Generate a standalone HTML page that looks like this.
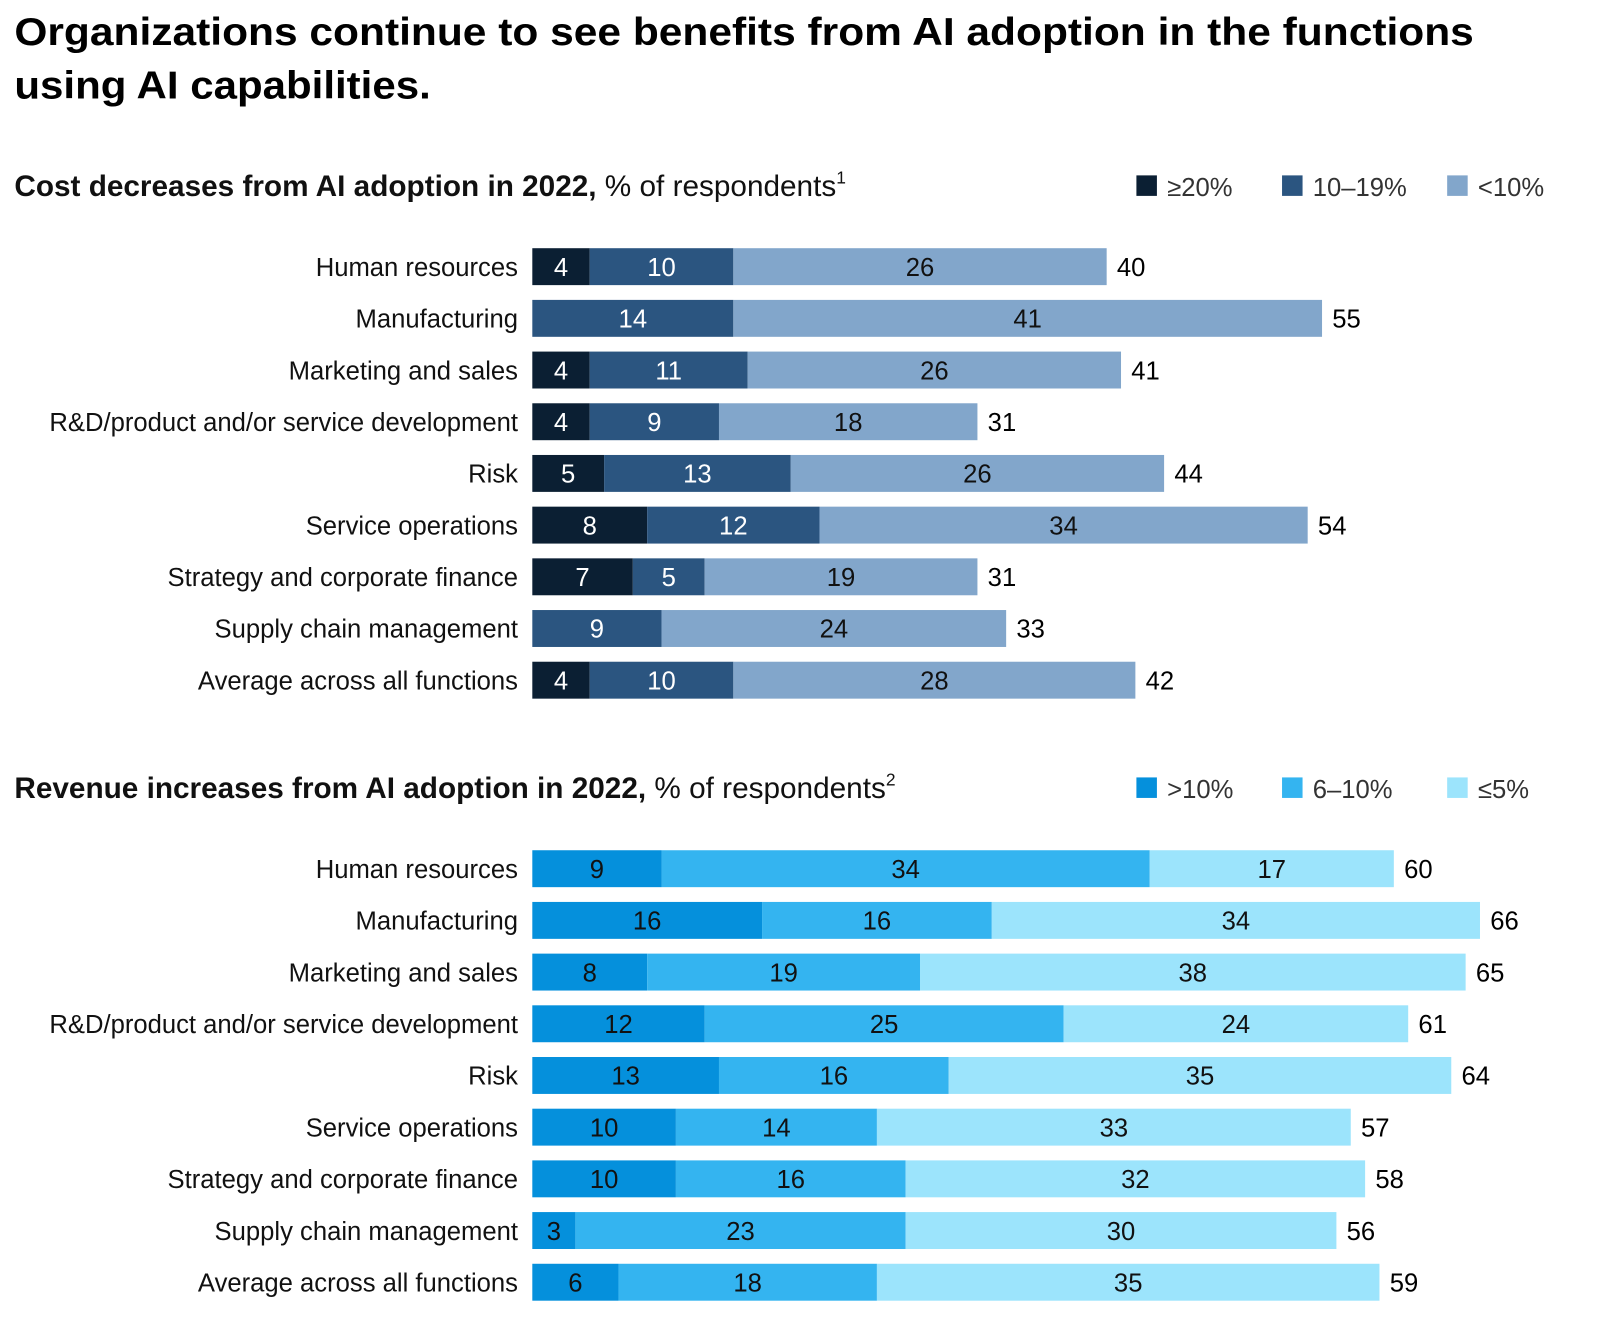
<!DOCTYPE html>
<html><head><meta charset="utf-8"><style>
html,body{margin:0;padding:0;background:#fff;}
svg{display:block;font-family:"Liberation Sans",sans-serif;}
</style></head><body>
<svg id="chart" width="1600" height="1321" viewBox="0 0 1560 1288" xmlns="http://www.w3.org/2000/svg">
<text x="14" y="44" font-size="38" font-weight="bold" fill="#000" textLength="1423" lengthAdjust="spacingAndGlyphs">Organizations continue to see benefits from AI adoption in the functions</text>
<text x="14" y="96" font-size="38" font-weight="bold" fill="#000" textLength="406" lengthAdjust="spacingAndGlyphs">using AI capabilities.</text>
<g id="g1"></g>
<g id="g2"></g>
</svg>
<script>
const categories = ["Human resources","Manufacturing","Marketing and sales","R&D/product and/or service development","Risk","Service operations","Strategy and corporate finance","Supply chain management","Average across all functions"];
const costHigh = [4,0,4,4,5,8,7,0,4];
const costMid = [10,14,11,9,13,12,5,9,10];
const costLow = [26,41,26,18,26,34,19,24,28];
const costTotal = [40,55,41,31,44,54,31,33,42];
const costLegend = ["≥20%","10–19%","<10%"];
const revHigh = [9,16,8,12,13,10,10,3,6];
const revMid = [34,16,19,25,16,14,16,23,18];
const revLow = [17,34,38,24,35,33,32,30,35];
const revTotal = [60,66,65,61,64,57,58,56,59];
const revLegend = [">10%","6–10%","≤5%"];

const NS = "http://www.w3.org/2000/svg";
const X0 = 519, UNIT = 14, PITCH = 50.4, BAR_H = 36;
const xScale = v => X0 + v * UNIT;
function mk(tag, attrs, parent, txt){
  const e = document.createElementNS(NS, tag);
  for (const k in attrs) e.setAttribute(k, attrs[k]);
  if (txt !== undefined) e.textContent = txt;
  parent.appendChild(e);
  return e;
}
function drawChart(g, cfg){
  const st = mk("text", {x:14, y:cfg.subY, "font-size":29, fill:"#111"}, g);
  
  
  mk("tspan", {"font-weight":"bold"}, st, cfg.bold);
  mk("tspan", {}, st, " % of respondents");
  mk("tspan", {"font-size":17, dy:-12}, st, cfg.sup);
  const lx = [1108, 1250, 1411];
  cfg.legend.forEach((lab, i) => {
    const r = mk("rect", {x:lx[i], y:cfg.subY-20, width:20, height:20, fill:cfg.colors[i]}, g);
    
    
    const t = mk("text", {x:lx[i]+30, y:cfg.subY, "font-size":25, fill:"#333"}, g, lab);
    
    
  });
  categories.forEach((cat, i) => {
    const cy = cfg.y0 + i * PITCH;
    const lt = mk("text", {x:505, y:cy+9, "font-size":25, fill:"#111", "text-anchor":"end"}, g, cat);
    
    
    const vals = [cfg.s[0][i], cfg.s[1][i], cfg.s[2][i]];
    let acc = 0;
    vals.forEach((v, j) => {
      if (v > 0) {
        const r = mk("rect", {x:xScale(acc), y:cy-BAR_H/2, width:xScale(acc+v)-xScale(acc), height:BAR_H, fill:cfg.colors[j]}, g);
        
        
        const t = mk("text", {x:(xScale(acc)+xScale(acc+v))/2, y:cy+9, "font-size":25, fill:cfg.textColors[j], "text-anchor":"middle"}, g, v);
        
        
      }
      acc += v;
    });
    const tt = mk("text", {x:xScale(cfg.total[i])+10, y:cy+9, "font-size":25, fill:"#000"}, g, cfg.total[i]);
    
    
  });
}
drawChart(document.getElementById("g1"), {
  subY:191, bold:"Cost decreases from AI adoption in 2022,", sup:"1",
  legend:costLegend, colors:["#0b1f33","#2b5580","#82a6cb"], textColors:["#fff","#fff","#111"],
  y0:260, s:[costHigh,costMid,costLow], total:costTotal
});
drawChart(document.getElementById("g2"), {
  subY:778, bold:"Revenue increases from AI adoption in 2022,", sup:"2",
  legend:revLegend, colors:["#0590dc","#34b4f0","#9ce4fc"], textColors:["#111","#111","#111"],
  y0:847, s:[revHigh,revMid,revLow], total:revTotal
});
</script>
</body></html>
